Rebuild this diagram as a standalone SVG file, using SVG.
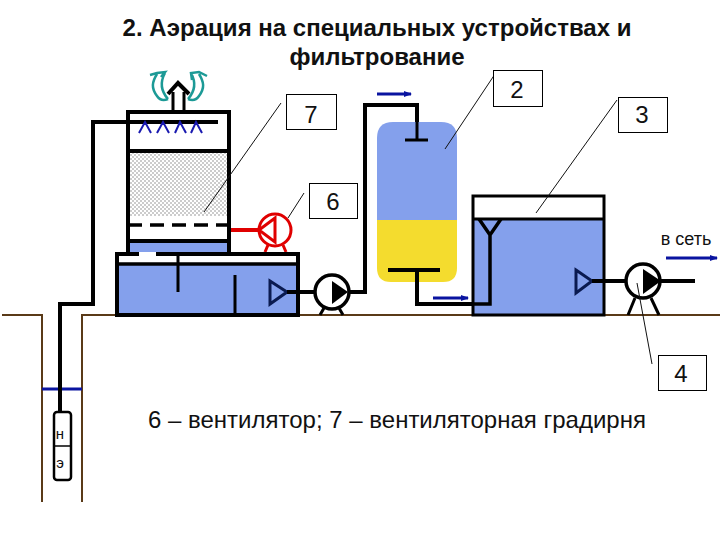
<svg xmlns="http://www.w3.org/2000/svg" width="720" height="540" viewBox="0 0 720 540">
<defs>
<pattern id="dots" width="4" height="4" patternUnits="userSpaceOnUse"><rect width="4" height="4" fill="#fff"/><rect x="0.500" y="0.500" width="1" height="1" fill="#333"/><rect x="2.500" y="2.500" width="1" height="1" fill="#333"/></pattern>
<marker id="ah" markerWidth="8" markerHeight="6" refX="7" refY="3" orient="auto" markerUnits="userSpaceOnUse"><path d="M0,0L8,3L0,6z" fill="#0a14a0"/></marker>
</defs>
<style>
text{font-family:"Liberation Sans",Arial,sans-serif;fill:#111}
.t{font-weight:bold;font-size:24px;text-anchor:middle}
.n{font-size:24px;text-anchor:middle}
.box{fill:#fff;stroke:#000;stroke-width:1}
.p{fill:none;stroke:#000;stroke-width:4}
.w{fill:#84a0ec}
.lead{fill:none;stroke:#111;stroke-width:1}
.soil{fill:none;stroke:#5a3a18;stroke-width:2}
.flow{fill:none;stroke:#0a14a0;stroke-width:3;marker-end:url(#ah)}
.pump{fill:#fff;stroke:#000;stroke-width:3.5}
.teal{fill:none;stroke:#1c9a96;stroke-width:2.5}
</style>
<g id="title"><text class="t" x="377" y="36">2. Аэрация на специальных устройствах и</text><text class="t" x="377" y="65">фильтрование</text></g>
<g id="ground">
<path class="soil" d="M2,315H42V502M82,502V315H720"/>
<path d="M42,389H82" fill="none" stroke="#0a14a0" stroke-width="3"/>
</g>
<g id="connectors">
<path class="p" d="M60,412V304H93V122H218"/>
<path class="p" d="M287,292H316M348,292H365V105H417V140"/>
<path class="p" d="M417,270V304H490"/>
<path class="p" d="M593,281H626M661,281H695"/>
<path d="M231,230H258" fill="none" stroke="#e00000" stroke-width="4"/>
</g>
<g id="well-pump">
<rect x="54" y="412" width="17" height="68" rx="3" fill="#fff" stroke="#000" stroke-width="2.5"/>
<path d="M54,446H71" stroke="#000" stroke-width="1.5"/>
<text x="60" y="439" font-size="15" text-anchor="middle">н</text>
<text x="60" y="468" font-size="15" text-anchor="middle">э</text>
</g>
<g id="tower">
<rect x="129" y="151" width="100" height="88" fill="url(#dots)"/>
<rect x="129" y="241" width="100" height="13" class="w"/>
<rect x="127" y="216" width="103" height="23" fill="#fff"/>
<path d="M128,112H229M128,151H229M128,241H229M128,110V254M229,110V254" stroke="#000" stroke-width="4" fill="none"/>
<path d="M128,225H229" stroke="#000" stroke-width="3.5" stroke-dasharray="14 8"/>
<path d="M139,133L145,122L151,133M157,133L163,122L169,133M175,133L180,122L186,133M191,133L196,122L202,133" fill="none" stroke="#1a1ab0" stroke-width="2"/>
<path d="M173,110V92M184,110V92" stroke="#000" stroke-width="3"/>
<path d="M168,94L178,83L189,94" fill="none" stroke="#000" stroke-width="4"/>
<path class="teal" d="M168,99Q161,102 157,96C151,88 152,82 157,74M168,99C160,90 160,82 165,73M150,75L157,73L165,72L161,77"/>
<path class="teal" d="M188,99Q195,102 199,96C205,88 204,82 199,74M188,99C196,90 196,82 191,73M207,76L199,72L191,73L192,80"/>
</g>
<g id="fan">
<circle cx="275" cy="230" r="16" fill="#fff" stroke="#e00000" stroke-width="3"/>
<path d="M259,230L275,218V242z" fill="#fff" stroke="#e00000" stroke-width="3"/>
<path d="M268,245L265,252M283,245L286,252" stroke="#e00000" stroke-width="3"/>
</g>
<g id="tank1">
<rect x="117" y="254" width="181" height="61" fill="#fff"/>
<rect x="117" y="264" width="181" height="51" class="w"/>
<rect x="117" y="254" width="181" height="61" fill="none" stroke="#000" stroke-width="4"/>
<path d="M117,264H298" stroke="#000" stroke-width="3.5"/>
<rect x="139" y="252" width="17" height="4" fill="#fff"/>
<path d="M178,254V292M235,275V315" stroke="#000" stroke-width="3"/>
<path d="M270,281L287,292L270,304z" fill="#84a0ec" stroke="#0a1a50" stroke-width="3"/>
<path d="M287,292H298" stroke="#000" stroke-width="4"/>
</g>
<g id="pump1">
<circle cx="332" cy="292" r="17" class="pump"/>
<path d="M332,281L348,292L332,304z" fill="#000"/>
<path d="M324,308L320,315M339,308L343,315" stroke="#000" stroke-width="3"/>
</g>
<g id="filter">
<path d="M377,220V138Q377,122 393,122H441Q457,122 457,138V220z" class="w"/>
<path d="M377,220V268Q377,282 391,282H443Q457,282 457,268V220z" fill="#f4dc2e"/>
<path d="M417,105V140M405,140H428" stroke="#000" stroke-width="3" fill="none"/>
<path d="M388,270H440M417,270V304" stroke="#000" stroke-width="4" fill="none"/>
</g>
<g id="tank2">
<rect x="473" y="196" width="131" height="119" fill="#fff"/>
<rect x="473" y="219" width="131" height="96" class="w"/>
<rect x="473" y="196" width="131" height="119" fill="none" stroke="#000" stroke-width="3"/>
<path d="M473,219H604" stroke="#000" stroke-width="3"/>
<path d="M479,219L490,235L501,219M490,235V304H471" fill="none" stroke="#000" stroke-width="3.5"/>
<path d="M576,270L592,281L576,293z" fill="none" stroke="#0a1a50" stroke-width="3"/>
<path d="M592,281H604" stroke="#000" stroke-width="4"/>
</g>
<g id="pump2">
<circle cx="643" cy="281" r="17" class="pump"/>
<path d="M643,269L661,281L643,294z" fill="#000"/>
<path d="M635,298L628,315M651,298L659,315" stroke="#000" stroke-width="3"/>
</g>
<g id="flows">
<path class="flow" d="M377,94H411"/>
<path class="flow" d="M433,298H468"/>
<path class="flow" d="M666,258H717"/>
</g>
<g id="leaders">
<path class="lead" d="M281,103L204,212"/>
<path class="lead" d="M304,193L288,218"/>
<path class="lead" d="M497,71L445,149"/>
<path class="lead" d="M617,100L536,213"/>
<path class="lead" d="M637,283L652,364"/>
</g>
<g id="label-7"><rect class="box" x="286.500" y="94.500" width="50" height="35"/><text class="n" x="311" y="123">7</text></g>
<g id="label-6"><rect class="box" x="309.500" y="183.500" width="48" height="35"/><text class="n" x="333" y="210">6</text></g>
<g id="label-2"><rect class="box" x="493.500" y="70.500" width="49" height="36"/><text class="n" x="517" y="98">2</text></g>
<g id="label-3"><rect class="box" x="618.500" y="97.500" width="49" height="35"/><text class="n" x="642" y="123">3</text></g>
<g id="label-4"><rect class="box" x="658.500" y="355.500" width="48" height="35"/><text class="n" x="681" y="382">4</text></g>
<text x="686" y="245" font-size="18" text-anchor="middle">в сеть</text>
<text x="148" y="428" font-size="24">6 – вентилятор; 7 – вентиляторная градирня</text>
</svg>
